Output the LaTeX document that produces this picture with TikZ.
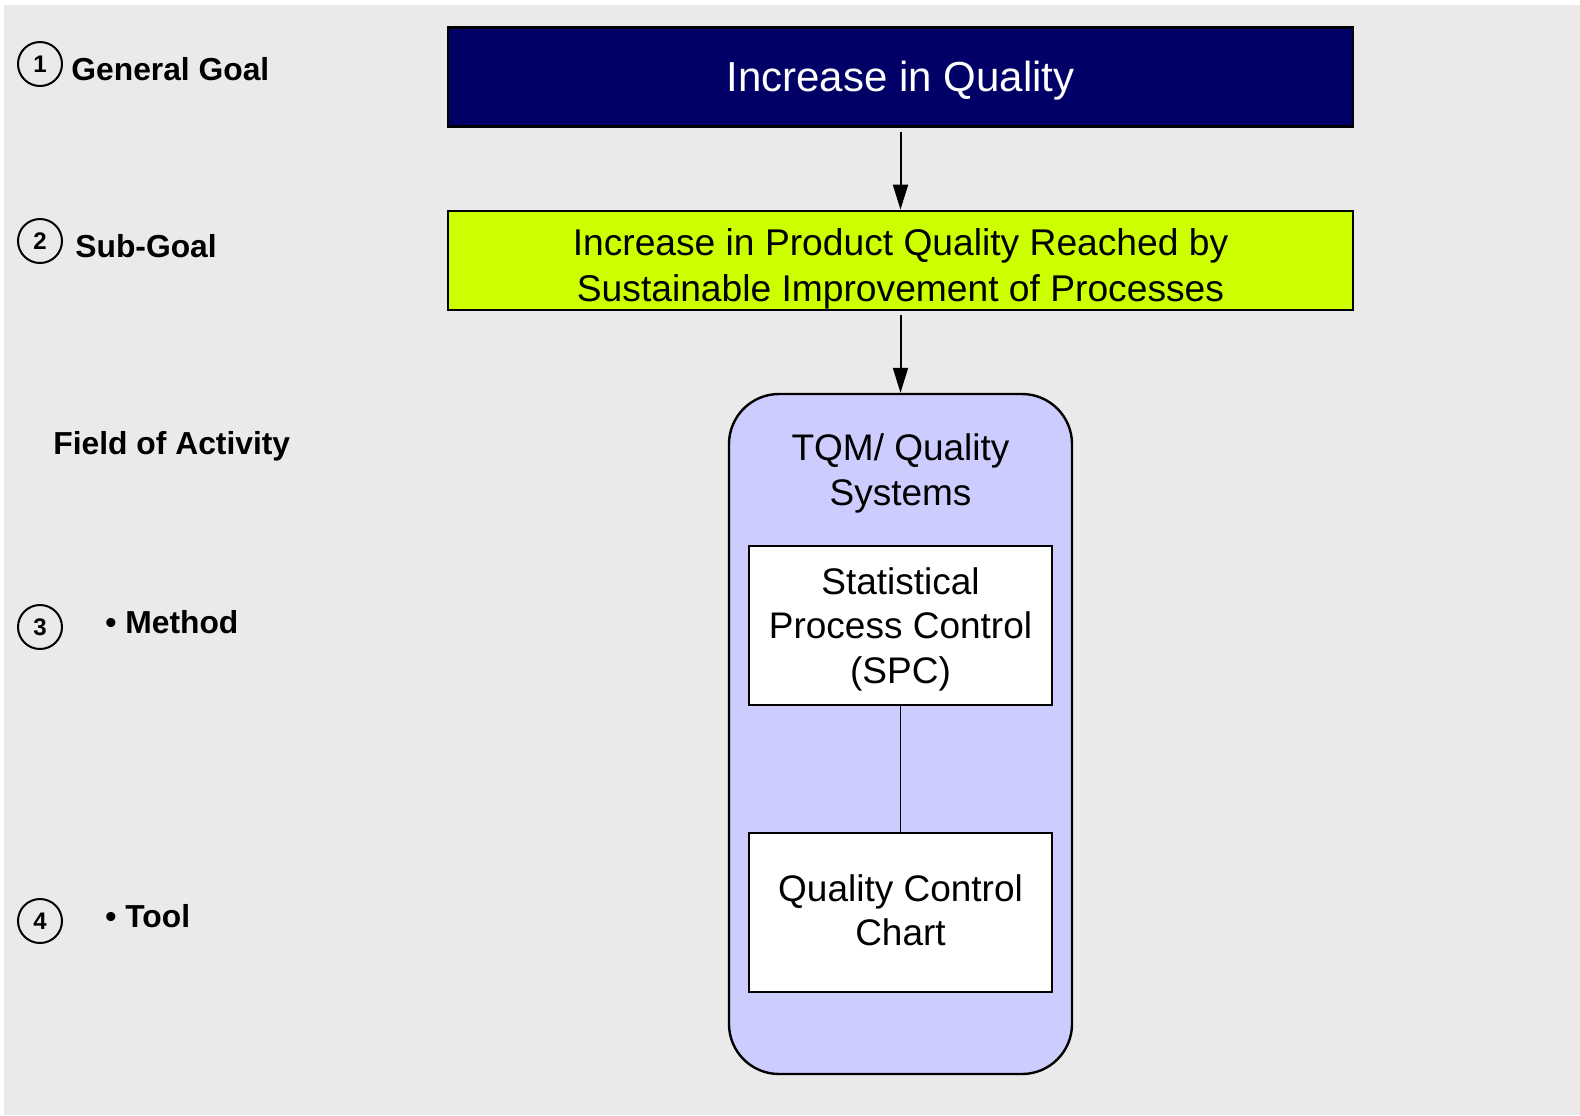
\documentclass[tikz,border=0pt]{standalone}
\usepackage{fontspec}
\setmainfont{Liberation Sans}
\usetikzlibrary{arrows.meta}
\definecolor{GoalBlue}{HTML}{000066}
\definecolor{SubLime}{HTML}{CCFF00}
\definecolor{FieldLilac}{HTML}{CCCCFF}
\definecolor{PageGray}{HTML}{EAEAEA}

\begin{document}
\begin{tikzpicture}[
        % Environment Config
        x=0.5pt, y=-0.5pt,
        MyArrow/.style={% Style for the flow arrows
          -{Triangle[length=12.5pt,width=7.5pt]},
          line width=1pt,
          shorten <= 2pt
        },
        GoalBox/.style={% Style for the two goal boxes
          draw,
          rectangle,
          line width=1.4pt,
          minimum width=452.5pt,
          minimum height=49.5pt,
          align=center,
          inner sep=0pt
        },
        MethodBox/.style={% Style for the white boxes
          draw,
          fill=white,
          rectangle,
          line width=1.2pt,
          minimum width=151.5pt,
          minimum height=79.5pt,
          align=center,
          inner sep=0pt,
          font=\fontsize{18.5}{22.4}\selectfont
        },
        Numbered/.style = {% Style for circle marks
          draw,
          circle,
          line width=1pt,
          minimum size=22pt,
          inner sep=0pt,
          font=\bfseries\fontsize{12}{14}\selectfont
        },
        Level/.style={% Style for the row names
          anchor=base west,
          inner sep=0pt,
          font=\bfseries\fontsize{15.9}{18}\selectfont
        }
      ]

      \def\Lines#1#2{% Text lines moved down by #1
        \raisebox{-#1}[\height][\depth]{\begin{tabular}{@{}c@{}}#2\end{tabular}}%
      }

      % Page background
      \useasboundingbox (0,0) rectangle (1580,1115);
      \fill[PageGray] (4,5) rectangle (1580,1115);

      % Row names on the left
      \draw(40,64) node[Numbered](N1){1};
      \draw(40,241) node[Numbered](N2){2};
      \draw(40,627) node[Numbered](N3){3};
      \draw(40,921) node[Numbered](N4){4};
      \draw(71,80) node[Level](L1){General Goal};
      \draw(75,257) node[Level](L2){Sub-Goal};
      \draw(53,454) node[Level](L0){Field of Activity};
      \draw(105,633) node[Level](L3){\textbullet\ Method};
      \draw(105,927) node[Level](L4){\textbullet\ Tool};

      % Goal boxes
      \draw(900.5,77) node[GoalBox,fill=GoalBlue,text=white,
        font=\fontsize{21}{25}\selectfont](Goal){\Lines{2pt}{Increase in Quality}};
      \draw(900.5,260.5) node[GoalBox,fill=SubLime,
        font=\fontsize{18.6}{22.6}\selectfont](SubGoal)
        {\Lines{4.5pt}{Increase in Product Quality Reached by\\Sustainable Improvement of Processes}};

      % Field of activity with its method and tool
      \draw(900.5,734) node[draw,fill=FieldLilac,line width=1.2pt,
        rounded corners=25pt,minimum width=171.5pt,minimum height=340pt](Field){};
      \draw(900.5,473) node[align=center,inner sep=0pt,
        font=\fontsize{18.5}{22.5}\selectfont](TQM){TQM/ Quality\\Systems};
      \draw(900.5,625.5) node[MethodBox](SPC){\Lines{2.2pt}{Statistical\\Process Control\\(SPC)}};
      \draw(900.5,912.5) node[MethodBox](QCC){\Lines{1pt}{Quality Control\\Chart}};

      % Connections
      \draw[MyArrow] (Goal) -- (SubGoal);
      \draw[MyArrow] (SubGoal) -- (Field);
      \draw[line width=0.7pt] (SPC) -- (QCC);

\end{tikzpicture}
\end{document}
